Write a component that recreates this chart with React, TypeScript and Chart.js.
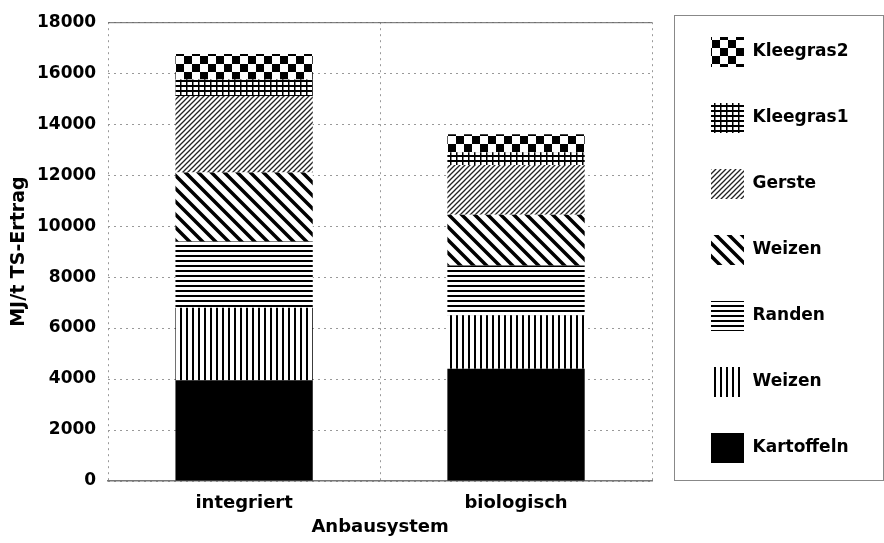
import { useEffect, useRef } from 'react';
import { Chart, registerables } from 'chart.js';

Chart.register(...registerables);

// ---- data ----
const CATEGORIES = ['integriert', 'biologisch'];
const SERIES_LABELS = ['Kartoffeln', 'Weizen', 'Randen', 'Weizen', 'Gerste', 'Kleegras1', 'Kleegras2'];
const KARTOFFELN = [3950, 4400];
const WEIZEN_1 = [2850, 2100];
const RANDEN = [2600, 1950];
const WEIZEN_2 = [2700, 2000];
const GERSTE = [3000, 1950];
const KLEEGRAS_1 = [650, 500];
const KLEEGRAS_2 = [1000, 700];
const Y_MIN = 0;
const Y_MAX = 18000;
const Y_STEP = 2000;
const X_TITLE = 'Anbausystem';
const Y_TITLE = 'MJ/t TS-Ertrag';

const SERIES_VALUES = [KARTOFFELN, WEIZEN_1, RANDEN, WEIZEN_2, GERSTE, KLEEGRAS_1, KLEEGRAS_2];
const SERIES_PATTERNS = ['solid', 'vert', 'horiz', 'diagBack', 'diagFwd', 'brick', 'checker'];

const FONT = 'DejaVu Sans';

function makePattern(kind: string): CanvasPattern | string {
  if (kind === 'solid') return '#000';
  const c = document.createElement('canvas');
  const g = c.getContext('2d') as CanvasRenderingContext2D;
  const bg = (w: number, h: number) => {
    c.width = w;
    c.height = h;
    g.fillStyle = '#fff';
    g.fillRect(0, 0, w, h);
    g.fillStyle = '#000';
    g.strokeStyle = '#000';
  };
  if (kind === 'vert') {
    bg(6, 6);
    g.fillRect(0, 0, 2, 6);
  } else if (kind === 'horiz') {
    bg(5, 5);
    g.fillRect(0, 0, 5, 2);
  } else if (kind === 'diagBack') {
    const s = 13;
    bg(s, s);
    g.lineWidth = 3.5;
    g.beginPath();
    for (const k of [-1, 0, 1]) {
      g.moveTo(-2, -2 + k * s);
      g.lineTo(s + 2, s + 2 + k * s);
    }
    g.stroke();
  } else if (kind === 'diagFwd') {
    const s = 5;
    bg(s, s);
    g.lineWidth = 1.3;
    g.strokeStyle = '#222';
    g.beginPath();
    for (const k of [0, 1, 2]) {
      g.moveTo(-2, 2 + k * s);
      g.lineTo(s + 2, -s - 2 + k * s);
    }
    g.stroke();
  } else if (kind === 'brick') {
    bg(6, 5);
    g.fillRect(0, 0, 6, 2);
    g.fillRect(0, 0, 1.5, 5);
  } else if (kind === 'checker') {
    bg(16, 16);
    g.fillRect(0, 0, 8, 8);
    g.fillRect(8, 8, 8, 8);
  }
  return g.createPattern(c, 'repeat') as CanvasPattern;
}

const LEGEND_LEFT = 675;
const LEGEND_TOP = 1;

const decorPlugin = {
  id: 'decor',
  afterLayout(chart: any) {
    const lg = chart.legend;
    if (lg) {
      const w = lg.width;
      const h = lg.height;
      lg.left = LEGEND_LEFT;
      lg.right = LEGEND_LEFT + w;
      lg.top = LEGEND_TOP;
      lg.bottom = LEGEND_TOP + h;
    }
  },
  afterDraw(chart: any) {
    const { ctx, chartArea } = chart;
    ctx.save();
    ctx.strokeStyle = '#666';
    ctx.lineWidth = 1;
    ctx.beginPath();
    ctx.moveTo(chartArea.left, chartArea.top + 0.5);
    ctx.lineTo(chartArea.right, chartArea.top + 0.5);
    ctx.stroke();
    ctx.strokeStyle = '#888';
    ctx.strokeRect(674.5, 15.5, 209, 465);
    ctx.restore();
  },
};

export default function App() {
  const ref = useRef<HTMLCanvasElement>(null);

  useEffect(() => {
    if (!ref.current) return;
    const datasets = SERIES_LABELS.map((label, i) => ({
      label,
      data: SERIES_VALUES[i],
      backgroundColor: makePattern(SERIES_PATTERNS[i]),
      borderWidth: 0,
      barPercentage: 0.505,
      categoryPercentage: 1,
    }));
    const chart = new Chart(ref.current, {
      type: 'bar',
      data: { labels: CATEGORIES, datasets },
      options: {
        animation: false,
        responsive: false,
        devicePixelRatio: 1,
        layout: { padding: { left: 8, right: 52, top: 21, bottom: 13.5 } },
        font: { family: FONT },
        plugins: {
          tooltip: { enabled: false },
          legend: {
            position: 'right',
            align: 'start',
            reverse: true,
            maxWidth: 180,
            labels: {
              boxWidth: 33,
              boxHeight: 30,
              padding: 36,
              color: '#000',
              font: { family: FONT, size: 17, weight: 'bold' },
            },
          },
        },
        scales: {
          x: {
            stacked: true,
            grid: { offset: true, color: '#999', drawTicks: false },
            border: { display: true, color: '#777', width: 1.5, dash: [2, 4] },
            ticks: { color: '#000', padding: 11.2, font: { family: FONT, size: 18, weight: 'bold' } },
            title: {
              display: true,
              text: X_TITLE,
              color: '#000',
              padding: { top: 0, bottom: 0 },
              font: { family: FONT, size: 18, weight: 'bold', lineHeight: 0.25 },
            },
          },
          y: {
            stacked: true,
            min: Y_MIN,
            max: Y_MAX,
            grid: { color: '#999', drawTicks: false },
            border: { display: false, dash: [2, 4] },
            ticks: {
              stepSize: Y_STEP,
              color: '#000',
              padding: 12,
              font: { family: FONT, size: 17, weight: 'bold' },
              callback: (v: any) => String(v),
            },
            title: {
              display: true,
              text: Y_TITLE,
              color: '#000',
              padding: { top: 9.1, bottom: 3.15 },
              font: { family: FONT, size: 19, weight: 'bold', lineHeight: 0.25 },
            },
          },
        },
      },
      plugins: [decorPlugin],
    } as any);
    return () => chart.destroy();
  }, []);

  return (
    <div style={{ position: 'absolute', left: 0, top: 0, width: 884, height: 543, background: '#fff' }}>
      <canvas ref={ref} width={884} height={543} style={{ display: 'block' }} />
    </div>
  );
}
